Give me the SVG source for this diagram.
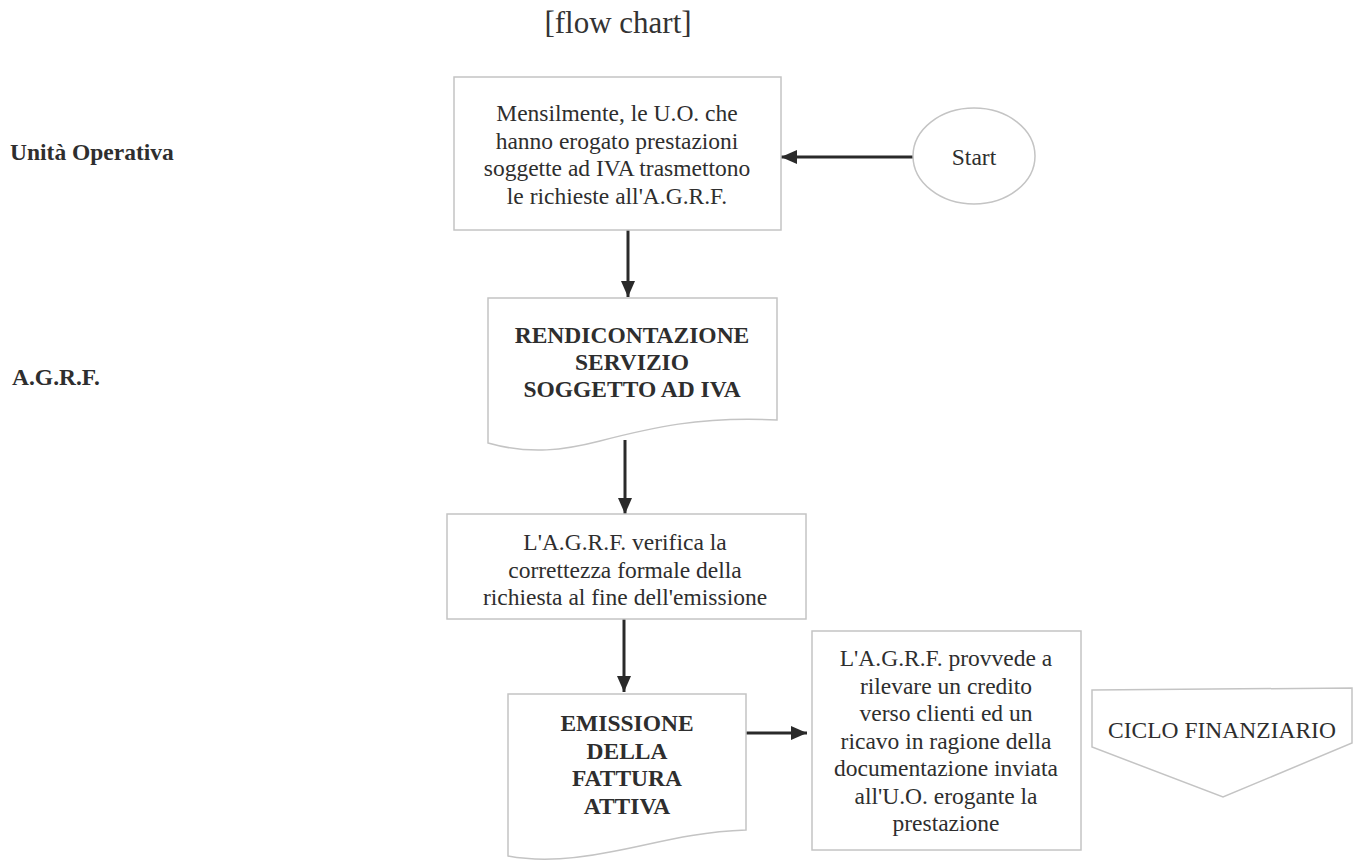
<svg xmlns="http://www.w3.org/2000/svg" width="1359" height="860" viewBox="0 0 1359 860">
  <defs>
    <style>
      .bg { fill: #ffffff; }
      .shape { fill: #ffffff; stroke: #c4c4c4; stroke-width: 1.5; }
      .txt { font-family: "Liberation Serif", "Times New Roman", serif; font-size: 23.5px; fill: #2e2e2e; text-anchor: middle; }
      .bold { font-weight: bold; }
      .lane { font-family: "Liberation Serif", "Times New Roman", serif; font-size: 23.5px; font-weight: bold; fill: #2e2e2e; }
      .title { font-family: "Liberation Serif", "Times New Roman", serif; font-size: 31px; fill: #333333; text-anchor: middle; }
      .conn { fill: none; stroke: #2a2a2a; stroke-width: 3; }
    </style>
    <marker id="arrow" viewBox="0 0 16 14" refX="16" refY="7" markerWidth="16" markerHeight="14" markerUnits="userSpaceOnUse" orient="auto">
      <path d="M0,0 L16,7 L0,14 Z" fill="#2a2a2a"/>
    </marker>
  </defs>

  <rect class="bg" x="0" y="0" width="1359" height="860"/>

  <text class="title" x="618" y="33">[flow chart]</text>

  <!-- swimlane labels -->
  <g id="lane-uo">
    <text class="lane" x="10" y="160">Unità Operativa</text>
  </g>
  <g id="lane-agrf">
    <text class="lane" x="12" y="385">A.G.R.F.</text>
  </g>

  <!-- connectors -->
  <g id="connectors">
    <line class="conn" x1="913" y1="157" x2="781" y2="157" marker-end="url(#arrow)"/>
    <line class="conn" x1="628" y1="230" x2="628" y2="297" marker-end="url(#arrow)"/>
    <line class="conn" x1="625" y1="440" x2="625" y2="514" marker-end="url(#arrow)"/>
    <line class="conn" x1="624" y1="619" x2="624" y2="692" marker-end="url(#arrow)"/>
    <line class="conn" x1="746" y1="733" x2="807" y2="733" marker-end="url(#arrow)"/>
  </g>

  <!-- start terminator -->
  <g id="start">
    <ellipse class="shape" cx="974" cy="156" rx="61" ry="48"/>
    <text class="txt" x="974" y="165">Start</text>
  </g>

  <!-- monthly request step -->
  <g id="richieste">
    <rect class="shape" x="454" y="77" width="327" height="153"/>
    <text class="txt" x="617" y="121">Mensilmente, le U.O. che</text>
    <text class="txt" x="617" y="148.5">hanno erogato prestazioni</text>
    <text class="txt" x="617" y="176">soggette ad IVA trasmettono</text>
    <text class="txt" x="617" y="203.5">le richieste all'A.G.R.F.</text>
  </g>

  <!-- report document -->
  <g id="rendicontazione">
    <path class="shape" d="M488,298 L777,298 L777,420 C700,416 650,428 600,441 C565,450 530,455 488,443 Z"/>
    <text class="txt bold" x="632" y="343">RENDICONTAZIONE</text>
    <text class="txt bold" x="632" y="370">SERVIZIO</text>
    <text class="txt bold" x="632" y="397">SOGGETTO AD IVA</text>
  </g>

  <!-- formal check step -->
  <g id="verifica">
    <rect class="shape" x="447" y="514" width="359" height="105"/>
    <text class="txt" x="625" y="550">L'A.G.R.F. verifica la</text>
    <text class="txt" x="625" y="577.5">correttezza formale della</text>
    <text class="txt" x="625" y="605">richiesta al fine dell'emissione</text>
  </g>

  <!-- invoice document -->
  <g id="emissione">
    <path class="shape" d="M508,694 L746,694 L746,830 C690,832 650,845 610,852 C575,859 540,862 508,856 Z"/>
    <text class="txt bold" x="627" y="731">EMISSIONE</text>
    <text class="txt bold" x="627" y="758.5">DELLA</text>
    <text class="txt bold" x="627" y="786">FATTURA</text>
    <text class="txt bold" x="627" y="813.5">ATTIVA</text>
  </g>

  <!-- accounting step -->
  <g id="rilevazione">
    <rect class="shape" x="812" y="631" width="269" height="219"/>
    <text class="txt" x="946" y="666">L'A.G.R.F. provvede a</text>
    <text class="txt" x="946" y="693.5">rilevare un credito</text>
    <text class="txt" x="946" y="721">verso clienti ed un</text>
    <text class="txt" x="946" y="748.5">ricavo in ragione della</text>
    <text class="txt" x="946" y="776">documentazione inviata</text>
    <text class="txt" x="946" y="803.5">all'U.O. erogante la</text>
    <text class="txt" x="946" y="831">prestazione</text>
  </g>

  <!-- off-page connector -->
  <g id="ciclo-finanziario">
    <path class="shape" d="M1092,690 L1352,688 L1352,743 L1223,797 L1092,747 Z"/>
    <text class="txt" x="1222" y="738">CICLO FINANZIARIO</text>
  </g>
</svg>
